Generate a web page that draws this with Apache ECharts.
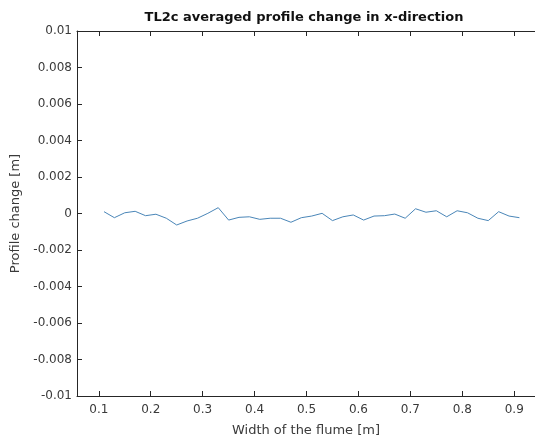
<!DOCTYPE html>
<html>
<head>
<meta charset="utf-8">
<script src="https://cdn.jsdelivr.net/npm/echarts@6/dist/echarts.min.js"></script>
<style>
  html, body { margin: 0; padding: 0; background: #fff; }
  #chart { width: 535px; height: 442px; }
</style>
</head>
<body>
<div id="chart"></div>
<script>
// Measurement positions across the flume [m]
const widths = [0.11, 0.13, 0.15, 0.17, 0.19, 0.21, 0.23, 0.25, 0.27, 0.29,
                0.31, 0.33, 0.35, 0.37, 0.39, 0.41, 0.43, 0.45, 0.47, 0.49,
                0.51, 0.53, 0.55, 0.57, 0.59, 0.61, 0.63, 0.65, 0.67, 0.69,
                0.71, 0.73, 0.75, 0.77, 0.79, 0.81, 0.83, 0.85, 0.87, 0.89, 0.91];
// Averaged profile change [m]
const profileChange = [0.00010, -0.00023, 0.00004, 0.00012, -0.00012, -0.00004, -0.00026, -0.00063, -0.00041, -0.00026,
                       0.00001, 0.00032, -0.00036, -0.00021, -0.00018, -0.00032, -0.00026, -0.00026, -0.00048, -0.00023,
                       -0.00014, 0.00001, -0.00039, -0.00018, -0.00008, -0.00036, -0.00014, -0.00012, -0.00003, -0.00026,
                       0.00026, 0.00007, 0.00015, -0.00018, 0.00015, 0.00004, -0.00026, -0.00039, 0.00010, -0.00014, -0.00023];
const xTicks = [0.1, 0.2, 0.3, 0.4, 0.5, 0.6, 0.7, 0.8, 0.9];

const FONT = '"DejaVu Sans", "Liberation Sans", Arial, sans-serif';
const TXT = '#3a3a3a';
const AX = '#262626';

const chart = echarts.init(document.getElementById('chart'), null, { renderer: 'canvas' });

function xAxisDef(position, labelColor) {
  return {
    type: 'value', min: 0.058, max: 0.94, position: position,
    axisLine: { show: true, onZero: false, lineStyle: { color: AX, width: 1 } },
    axisTick: { show: true, inside: true, length: 5, customValues: xTicks, lineStyle: { color: AX, width: 1 } },
    splitLine: { show: false },
    axisLabel: {
      show: true, customValues: xTicks, margin: 8,
      fontFamily: FONT, fontSize: 12, color: labelColor,
      formatter: v => String(parseFloat(v.toFixed(2)))
    }
  };
}

const bottomAxis = xAxisDef('bottom', TXT);
bottomAxis.name = 'Width of the flume [m]';
bottomAxis.nameLocation = 'middle';
bottomAxis.nameGap = 28;
bottomAxis.nameTextStyle = { fontFamily: FONT, fontSize: 13, color: TXT };

chart.setOption({
  animation: false,
  backgroundColor: '#fff',
  title: {
    text: 'TL2c averaged profile change in x-direction',
    left: 299, top: 6, textAlign: 'center',
    textStyle: { fontFamily: FONT, fontSize: 13, fontWeight: 'bold', color: '#111' }
  },
  grid: { left: 77, top: 31, width: 463, height: 365, containLabel: false },
  xAxis: [bottomAxis, xAxisDef('top', 'rgba(0,0,0,0)')],
  yAxis: {
    type: 'value', min: -0.01, max: 0.01, interval: 0.002,
    name: 'Profile change [m]', nameLocation: 'middle', nameGap: 55,
    nameTextStyle: { fontFamily: FONT, fontSize: 13, color: TXT },
    axisLine: { show: true, lineStyle: { color: AX, width: 1 } },
    axisTick: { show: true, inside: true, length: 5, lineStyle: { color: AX, width: 1 } },
    splitLine: { show: false },
    axisLabel: { margin: 5, fontFamily: FONT, fontSize: 12, color: TXT,
                 formatter: v => String(parseFloat(v.toFixed(3))) }
  },
  series: [{
    type: 'line',
    data: widths.map((w, i) => [w, profileChange[i]]),
    showSymbol: false,
    lineStyle: { color: '#4a86b8', width: 1 },
    xAxisIndex: 0
  }]
});
</script>
</body>
</html>
